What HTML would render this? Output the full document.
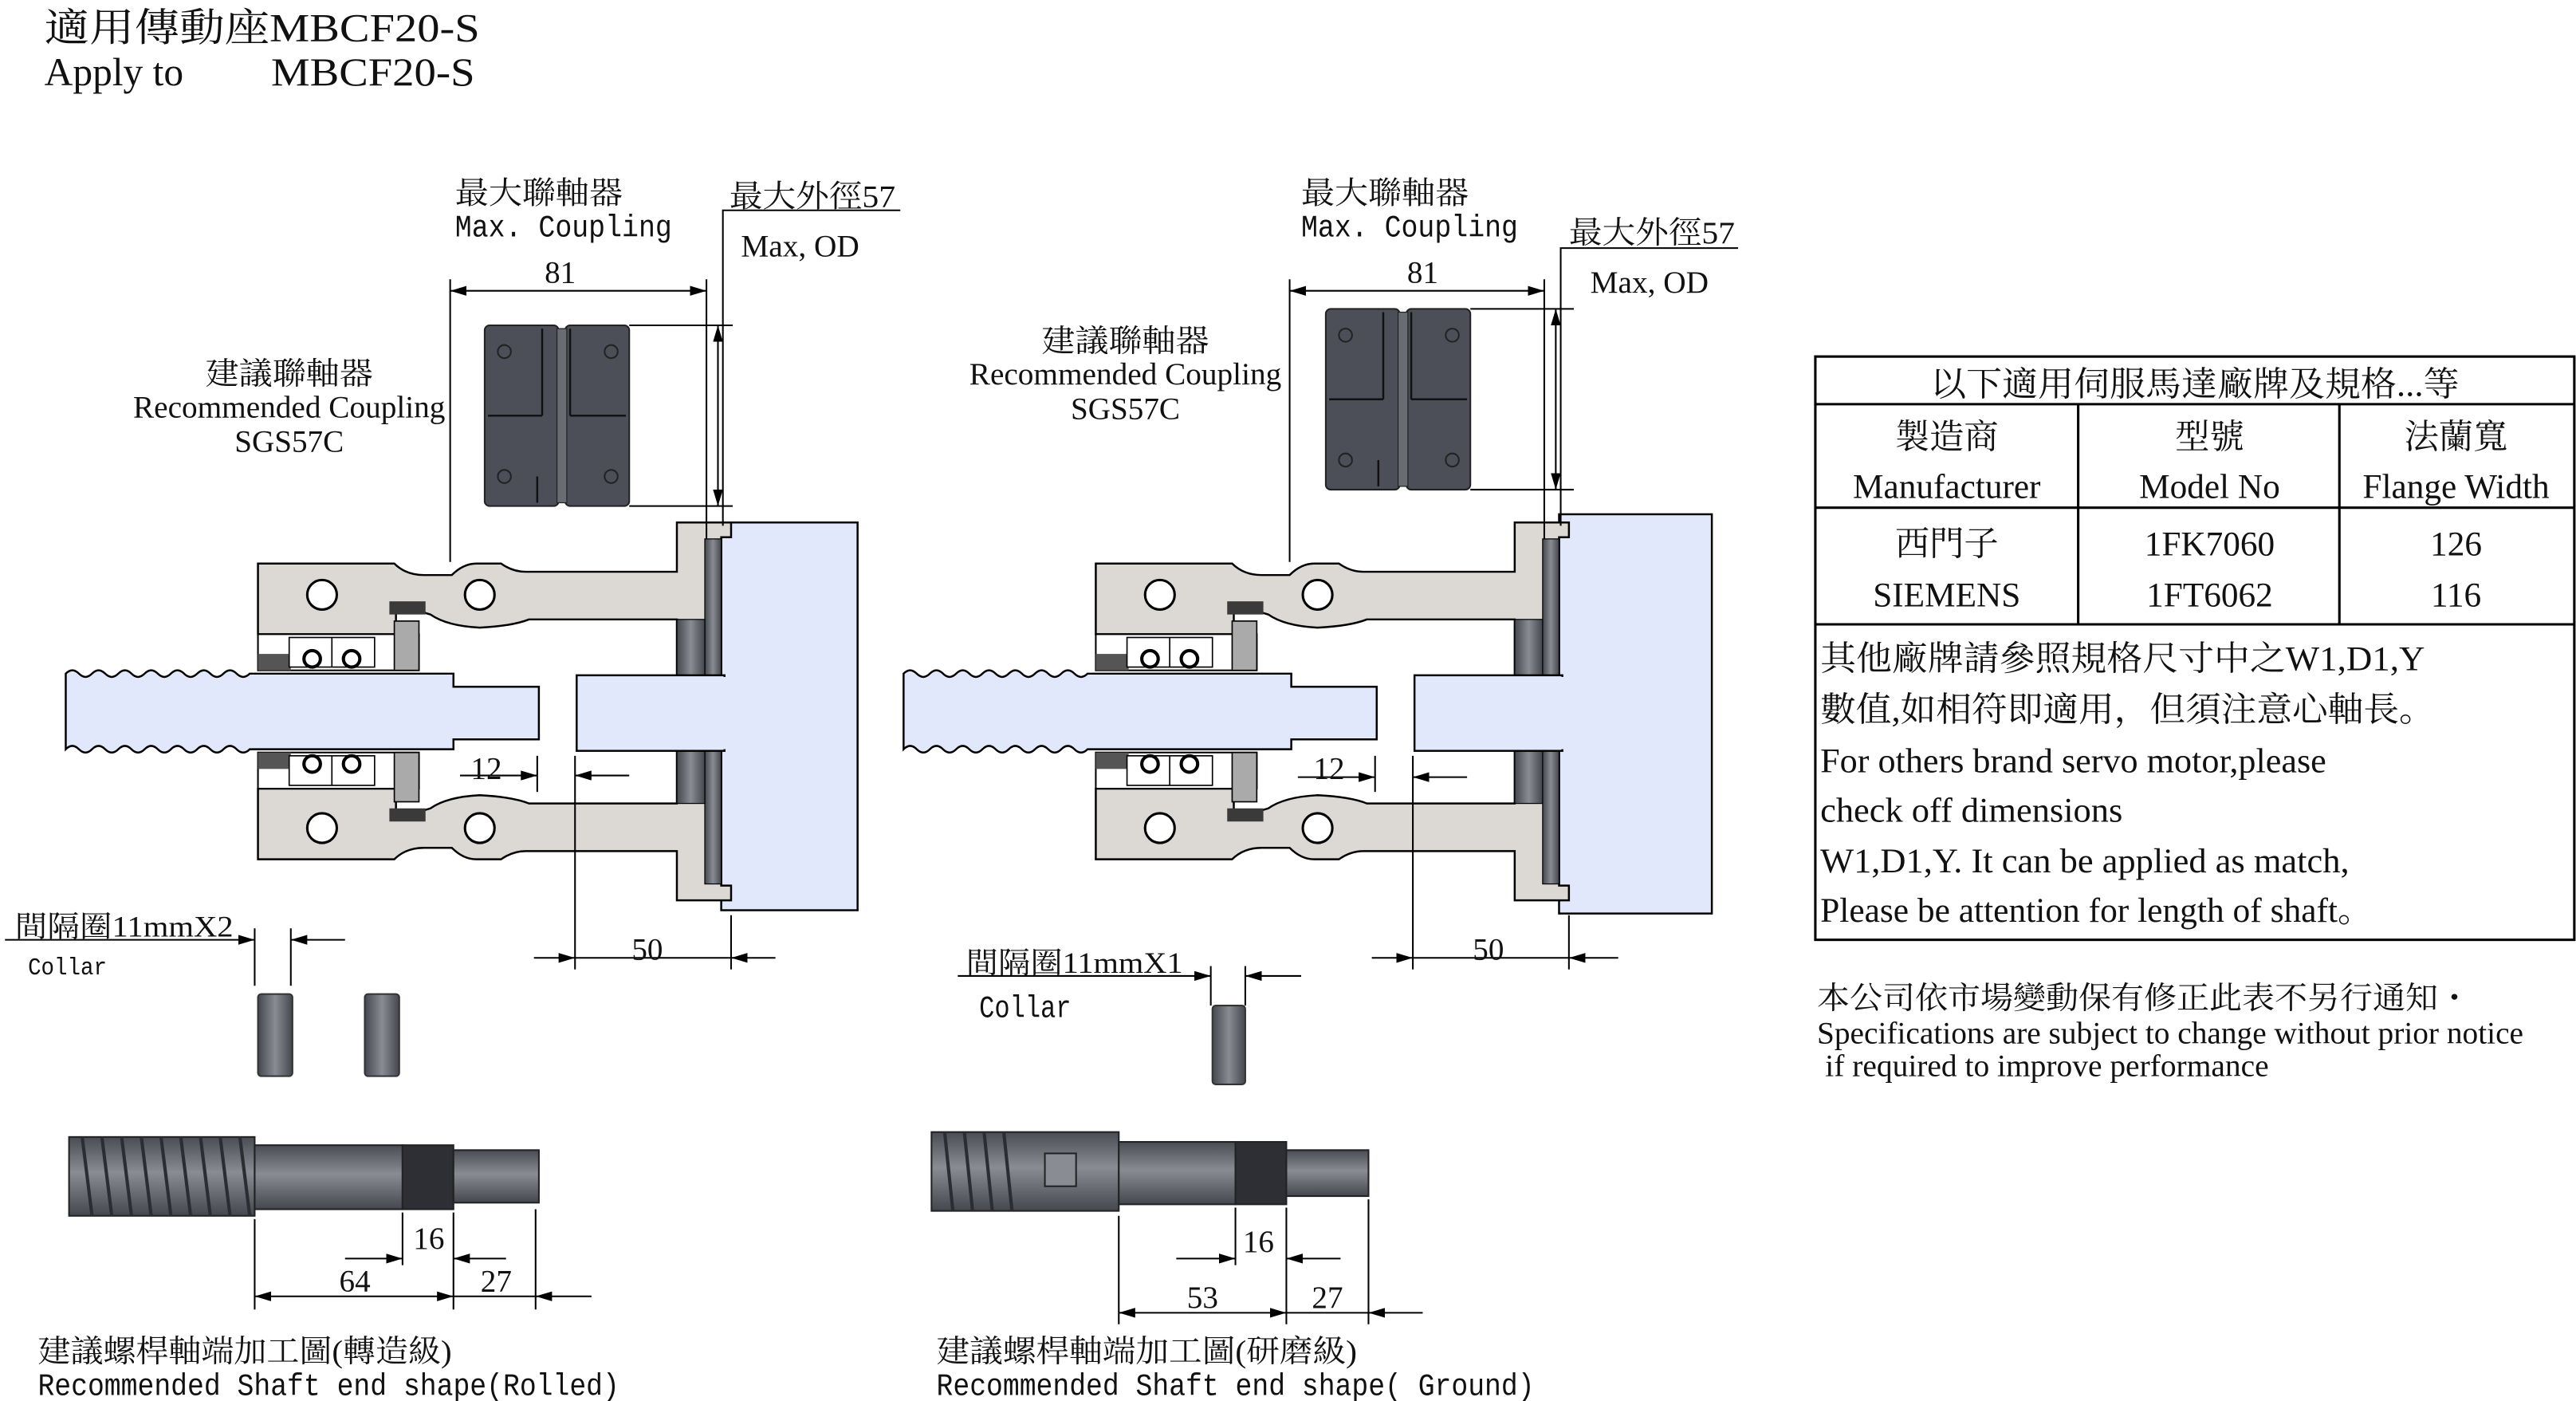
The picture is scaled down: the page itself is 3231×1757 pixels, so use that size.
<!DOCTYPE html>
<html><head><meta charset="utf-8"><style>
html,body{margin:0;padding:0;background:#fff;}
svg{display:block}
.s{font-family:"Liberation Serif","Noto Serif CJK SC","Noto Sans CJK TC",serif;fill:#111}
.m{font-family:"Liberation Mono","Noto Sans CJK TC",monospace;fill:#111}
</style></head><body>
<svg width="3231" height="1757" viewBox="0 0 1568 852.7" xmlns="http://www.w3.org/2000/svg">
<defs>
<marker id="a" viewBox="0 0 10 6" refX="10" refY="3" markerWidth="10" markerHeight="6" markerUnits="userSpaceOnUse" orient="auto-start-reverse"><path d="M0,0L10,3L0,6z" fill="#000"/></marker>
<linearGradient id="g" x1="0" y1="0" x2="0" y2="1"><stop offset="0" stop-color="#4a4c54"/><stop offset="0.45" stop-color="#8a8c94"/><stop offset="1" stop-color="#45474f"/></linearGradient>
<linearGradient id="gh" x1="0" y1="0" x2="1" y2="0"><stop offset="0" stop-color="#45474f"/><stop offset="0.5" stop-color="#8a8c94"/><stop offset="1" stop-color="#45474f"/></linearGradient>
<g id="half">
 <!-- housing upper half -->
 <path d="M157,343 H240 Q247,350 258,350 H275 Q282,343 290,343 H305 Q312,348 320,348 H412 V318 H445 V327 H439 V411 H412 V377 H322 Q312,381 292,382 Q272,381 262,374 L252,371 H241 V386 H157 Z" fill="#dcd8d3" stroke="#000" stroke-width="1.2"/>
 <rect x="237" y="366" width="22" height="8" fill="#3a3a3a"/>
 <rect x="157" y="386" width="98" height="22" fill="#fff" stroke="#000" stroke-width="1"/>
 <rect x="157" y="398" width="20" height="10" fill="#555"/>
 <rect x="240" y="378" width="15" height="30" fill="#aaa" stroke="#000" stroke-width="0.8"/>
 <circle cx="196" cy="362" r="9" fill="#fff" stroke="#000" stroke-width="1.5"/>
 <circle cx="292" cy="362" r="9" fill="#fff" stroke="#000" stroke-width="1.5"/>
 <rect x="176" y="388" width="52" height="18" fill="#fff" stroke="#000" stroke-width="0.8"/>
 <line x1="202" y1="388" x2="202" y2="406" stroke="#000" stroke-width="0.8"/>
 <circle cx="190" cy="401" r="5" fill="#fff" stroke="#000" stroke-width="2"/>
 <circle cx="214" cy="401" r="5" fill="#fff" stroke="#000" stroke-width="2"/>
 <rect x="429" y="328" width="10" height="83" fill="url(#gh)" stroke="#000" stroke-width="0.6"/>
 <rect x="412" y="377" width="17" height="34" fill="url(#gh)" stroke="#000" stroke-width="0.6"/>
</g>
<g id="coup">
 <rect x="295" y="198" width="45" height="110" rx="3" fill="#4d4f58" stroke="#222"/>
 <rect x="344" y="198" width="39" height="110" rx="3" fill="#4d4f58" stroke="#222"/>
 <rect x="339" y="200" width="6" height="106" fill="#6a6c74" stroke="#222" stroke-width="0.6"/>
 <path d="M297,253 H330 M347,253 H381 M330,253 V200 M347,253 V200 M327,290 V306" stroke="#111" stroke-width="1.2" fill="none"/>
 <circle cx="307" cy="214" r="4" fill="none" stroke="#222"/><circle cx="372" cy="214" r="4" fill="none" stroke="#222"/>
 <circle cx="307" cy="290" r="4" fill="none" stroke="#222"/><circle cx="372" cy="290" r="4" fill="none" stroke="#222"/>
</g>
<path id="thr" d="M40,410 q4,-4 8,0 t8,0 t8,0 t8,0 t8,0 t8,0 t8,0 t8,0 t8,0 t8,0 t8,0 t8,0 t8,0 t8,0 H276 V418 H328 V450 H276 V456 H152 q-4,4 -8,0 t-8,0 t-8,0 t-8,0 t-8,0 t-8,0 t-8,0 t-8,0 t-8,0 t-8,0 t-8,0 t-8,0 t-8,0 t-8,0 Z"/>
</defs>

<!-- title -->
<text class="s" x="27" y="25" font-size="24" textLength="265" lengthAdjust="spacingAndGlyphs">適用傳動座MBCF20-S</text>
<text class="s" x="27" y="52" font-size="24">Apply to</text>
<text class="s" x="165" y="52" font-size="24" textLength="124" lengthAdjust="spacingAndGlyphs">MBCF20-S</text>

<!-- LEFT ASSEMBLY -->
<g>
 <rect x="439" y="318" width="83" height="236" fill="#e1e8fb" stroke="#000" stroke-width="1.2"/>
 <use href="#half"/>
 <use href="#half" transform="matrix(1,0,0,-1,0,866)"/>
 <rect x="351" y="411" width="90" height="46" fill="#e1e8fb" stroke="#000" stroke-width="1.2"/>
 <rect x="436" y="412" width="8" height="44" fill="#e1e8fb"/>
 <use href="#thr" fill="#e1e8fb" stroke="#000" stroke-width="1.2"/>
 <use href="#coup"/>
</g>
<!-- left dims -->
<g stroke="#000" stroke-width="1" fill="none">
 <line x1="274" y1="170" x2="274" y2="342"/><line x1="430" y1="170" x2="430" y2="328"/>
 <line x1="274" y1="177" x2="430" y2="177" marker-start="url(#a)" marker-end="url(#a)"/>
 <path d="M548,128 H440 V320"/>
 <line x1="383" y1="198" x2="446" y2="198"/><line x1="383" y1="308" x2="446" y2="308"/>
 <line x1="437" y1="198" x2="437" y2="308" marker-start="url(#a)" marker-end="url(#a)"/>
 <line x1="327" y1="460" x2="327" y2="482"/><line x1="350" y1="460" x2="350" y2="590"/>
 <line x1="280" y1="472" x2="327" y2="472" marker-end="url(#a)"/><line x1="383" y1="472" x2="350" y2="472" marker-end="url(#a)"/>
 <line x1="445" y1="557" x2="445" y2="590"/>
 <line x1="325" y1="583" x2="350" y2="583" marker-end="url(#a)"/><line x1="350" y1="583" x2="445" y2="583"/><line x1="472" y1="583" x2="445" y2="583" marker-end="url(#a)"/>
 <line x1="3" y1="572" x2="155" y2="572" marker-end="url(#a)"/><line x1="210" y1="572" x2="177" y2="572" marker-end="url(#a)"/>
 <line x1="155" y1="565" x2="155" y2="600"/><line x1="177" y1="565" x2="177" y2="600"/>
</g>
<text class="s" x="277" y="124" font-size="19" textLength="102" lengthAdjust="spacingAndGlyphs">最大聯軸器</text>
<text class="m" x="277" y="144" font-size="19" textLength="132" lengthAdjust="spacingAndGlyphs">Max. Coupling</text>
<text class="s" x="444" y="126" font-size="19" textLength="101" lengthAdjust="spacingAndGlyphs">最大外徑57</text>
<text class="s" x="451" y="156" font-size="19" textLength="72" lengthAdjust="spacingAndGlyphs">Max, OD</text>
<text class="s" x="341" y="172" font-size="19" text-anchor="middle">81</text>
<text class="s" x="176" y="234" font-size="19" text-anchor="middle" textLength="102" lengthAdjust="spacingAndGlyphs">建議聯軸器</text>
<text class="s" x="176" y="254" font-size="19" text-anchor="middle" textLength="190" lengthAdjust="spacingAndGlyphs">Recommended Coupling</text>
<text class="s" x="176" y="275" font-size="19" text-anchor="middle">SGS57C</text>
<text class="s" x="296" y="474" font-size="19" text-anchor="middle">12</text>
<text class="s" x="394" y="584" font-size="19" text-anchor="middle">50</text>
<text class="s" x="9" y="570" font-size="18" textLength="133" lengthAdjust="spacingAndGlyphs">間隔圈11mmX2</text>
<text class="m" x="17" y="593" font-size="15" textLength="48" lengthAdjust="spacingAndGlyphs">Collar</text>
<rect x="157" y="605" width="21" height="50" rx="2" fill="url(#gh)" stroke="#333"/>
<rect x="222" y="605" width="21" height="50" rx="2" fill="url(#gh)" stroke="#333"/>

<!-- left bottom shaft -->
<rect x="42" y="692" width="113" height="48" fill="url(#g)" stroke="#222"/>
<g stroke="#2b2d33" stroke-width="2">
 <path d="M50,692 l6,48 M62,692 l6,48 M74,692 l6,48 M86,692 l6,48 M98,692 l6,48 M110,692 l6,48 M122,692 l6,48 M134,692 l6,48 M146,692 l6,48"/>
</g>
<rect x="155" y="697" width="90" height="39" fill="url(#g)" stroke="#222"/>
<rect x="245" y="697" width="31" height="39" fill="#2e2f35" stroke="#222"/>
<rect x="276" y="700" width="52" height="32" fill="url(#g)" stroke="#222"/>
<g stroke="#000" stroke-width="1" fill="none">
 <line x1="155" y1="742" x2="155" y2="797"/><line x1="245" y1="738" x2="245" y2="770"/>
 <line x1="276" y1="738" x2="276" y2="797"/><line x1="326" y1="736" x2="326" y2="797"/>
 <line x1="210" y1="766" x2="245" y2="766" marker-end="url(#a)"/><line x1="308" y1="766" x2="276" y2="766" marker-end="url(#a)"/>
 <line x1="155" y1="789" x2="276" y2="789" marker-start="url(#a)" marker-end="url(#a)"/><line x1="276" y1="789" x2="326" y2="789"/>
 <line x1="360" y1="789" x2="326" y2="789" marker-end="url(#a)"/>
</g>
<text class="s" x="261" y="760" font-size="19" text-anchor="middle">16</text>
<text class="s" x="216" y="786" font-size="19" text-anchor="middle">64</text>
<text class="s" x="302" y="786" font-size="19" text-anchor="middle">27</text>
<text class="s" x="23" y="829" font-size="19" textLength="252" lengthAdjust="spacingAndGlyphs">建議螺桿軸端加工圖(轉造級)</text>
<text class="m" x="23" y="849" font-size="19" textLength="354" lengthAdjust="spacingAndGlyphs">Recommended Shaft end shape(Rolled)</text>

<!-- RIGHT ASSEMBLY -->
<g transform="translate(510,0)">
 <rect x="439" y="313" width="93" height="243" fill="#e1e8fb" stroke="#000" stroke-width="1.2"/>
 <use href="#half"/>
 <use href="#half" transform="matrix(1,0,0,-1,0,866)"/>
 <rect x="351" y="411" width="90" height="46" fill="#e1e8fb" stroke="#000" stroke-width="1.2"/>
 <rect x="436" y="412" width="8" height="44" fill="#e1e8fb"/>
 <use href="#thr" fill="#e1e8fb" stroke="#000" stroke-width="1.2"/>
</g>
<use href="#coup" transform="translate(512,-10)"/>
<g stroke="#000" stroke-width="1" fill="none">
 <line x1="785" y1="170" x2="785" y2="342"/><line x1="940" y1="170" x2="940" y2="328"/>
 <line x1="785" y1="177" x2="940" y2="177" marker-start="url(#a)" marker-end="url(#a)"/>
 <path d="M1058,151 H950 V320"/>
 <line x1="895" y1="188" x2="958" y2="188"/><line x1="895" y1="298" x2="958" y2="298"/>
 <line x1="947" y1="188" x2="947" y2="298" marker-start="url(#a)" marker-end="url(#a)"/>
 <line x1="837" y1="460" x2="837" y2="482"/><line x1="860" y1="460" x2="860" y2="590"/>
 <line x1="790" y1="473" x2="837" y2="473" marker-end="url(#a)"/><line x1="893" y1="473" x2="860" y2="473" marker-end="url(#a)"/>
 <line x1="955" y1="557" x2="955" y2="590"/>
 <line x1="835" y1="583" x2="860" y2="583" marker-end="url(#a)"/><line x1="860" y1="583" x2="955" y2="583"/><line x1="985" y1="583" x2="955" y2="583" marker-end="url(#a)"/>
 <line x1="583" y1="594" x2="737" y2="594" marker-end="url(#a)"/><line x1="792" y1="594" x2="758" y2="594" marker-end="url(#a)"/>
 <line x1="737" y1="588" x2="737" y2="612"/><line x1="758" y1="588" x2="758" y2="612"/>
</g>
<text class="s" x="792" y="124" font-size="19" textLength="102" lengthAdjust="spacingAndGlyphs">最大聯軸器</text>
<text class="m" x="792" y="144" font-size="19" textLength="132" lengthAdjust="spacingAndGlyphs">Max. Coupling</text>
<text class="s" x="955" y="148" font-size="19" textLength="101" lengthAdjust="spacingAndGlyphs">最大外徑57</text>
<text class="s" x="968" y="178" font-size="19" textLength="72" lengthAdjust="spacingAndGlyphs">Max, OD</text>
<text class="s" x="866" y="172" font-size="19" text-anchor="middle">81</text>
<text class="s" x="685" y="214" font-size="19" text-anchor="middle" textLength="102" lengthAdjust="spacingAndGlyphs">建議聯軸器</text>
<text class="s" x="685" y="234" font-size="19" text-anchor="middle" textLength="190" lengthAdjust="spacingAndGlyphs">Recommended Coupling</text>
<text class="s" x="685" y="255" font-size="19" text-anchor="middle">SGS57C</text>
<text class="s" x="809" y="474" font-size="19" text-anchor="middle">12</text>
<text class="s" x="906" y="584" font-size="19" text-anchor="middle">50</text>
<text class="s" x="588" y="592" font-size="18" textLength="132" lengthAdjust="spacingAndGlyphs">間隔圈11mmX1</text>
<text class="m" x="596" y="619" font-size="19" textLength="56" lengthAdjust="spacingAndGlyphs">Collar</text>
<rect x="738" y="612" width="20" height="48" rx="2" fill="url(#gh)" stroke="#333"/>

<!-- right bottom shaft -->
<rect x="567" y="689" width="114" height="48" fill="url(#g)" stroke="#222"/>
<g stroke="#2b2d33" stroke-width="2"><path d="M575,689 l5,48 M587,689 l5,48 M599,689 l5,48 M611,689 l5,48"/></g>
<rect x="636" y="702" width="19" height="20" fill="#8a8c94" stroke="#222"/>
<rect x="681" y="695" width="71" height="38" fill="url(#g)" stroke="#222"/>
<rect x="752" y="695" width="31" height="38" fill="#2e2f35" stroke="#222"/>
<rect x="783" y="700" width="50" height="28" fill="url(#g)" stroke="#222"/>
<g stroke="#000" stroke-width="1" fill="none">
 <line x1="681" y1="740" x2="681" y2="806"/><line x1="752" y1="735" x2="752" y2="770"/>
 <line x1="783" y1="735" x2="783" y2="806"/><line x1="833" y1="730" x2="833" y2="806"/>
 <line x1="716" y1="766" x2="752" y2="766" marker-end="url(#a)"/><line x1="816" y1="766" x2="783" y2="766" marker-end="url(#a)"/>
 <line x1="681" y1="799" x2="783" y2="799" marker-start="url(#a)" marker-end="url(#a)"/><line x1="783" y1="799" x2="833" y2="799"/>
 <line x1="866" y1="799" x2="833" y2="799" marker-end="url(#a)"/>
</g>
<text class="s" x="766" y="762" font-size="19" text-anchor="middle">16</text>
<text class="s" x="732" y="796" font-size="19" text-anchor="middle">53</text>
<text class="s" x="808" y="796" font-size="19" text-anchor="middle">27</text>
<text class="s" x="570" y="829" font-size="19" textLength="256" lengthAdjust="spacingAndGlyphs">建議螺桿軸端加工圖(研磨級)</text>
<text class="m" x="570" y="849" font-size="19" textLength="364" lengthAdjust="spacingAndGlyphs">Recommended Shaft end shape( Ground)</text>

<!-- TABLE -->
<g stroke="#000" stroke-width="1.5" fill="none">
 <rect x="1105" y="217" width="462" height="355"/>
 <line x1="1105" y1="246" x2="1567" y2="246"/>
 <line x1="1105" y1="309" x2="1567" y2="309"/>
 <line x1="1105" y1="380" x2="1567" y2="380"/>
 <line x1="1265" y1="246" x2="1265" y2="380"/>
 <line x1="1424" y1="246" x2="1424" y2="380"/>
</g>
<g class="s" font-size="21" text-anchor="middle">
 <text x="1336" y="241" textLength="322" lengthAdjust="spacingAndGlyphs">以下適用伺服馬達廠牌及規格...等</text>
 <text x="1185" y="273">製造商</text><text x="1345" y="273">型號</text><text x="1495" y="273">法蘭寬</text>
 <text x="1185" y="303">Manufacturer</text><text x="1345" y="303">Model No</text><text x="1495" y="303">Flange Width</text>
 <text x="1185" y="338">西門子</text><text x="1345" y="338">1FK7060</text><text x="1495" y="338">126</text>
 <text x="1185" y="369">SIEMENS</text><text x="1345" y="369">1FT6062</text><text x="1495" y="369">116</text>
</g>
<g class="s" font-size="21">
 <text x="1108" y="408" textLength="368" lengthAdjust="spacingAndGlyphs">其他廠牌請參照規格尺寸中之W1,D1,Y</text>
 <text x="1108" y="439" textLength="374" lengthAdjust="spacingAndGlyphs">數值,如相符即適用，但須注意心軸長。</text>
 <text x="1108" y="470" textLength="308" lengthAdjust="spacingAndGlyphs">For others brand servo motor,please</text>
 <text x="1108" y="500" textLength="184" lengthAdjust="spacingAndGlyphs">check off dimensions</text>
 <text x="1108" y="531" textLength="322" lengthAdjust="spacingAndGlyphs">W1,D1,Y. It can be applied as match,</text>
 <text x="1108" y="561" textLength="336" lengthAdjust="spacingAndGlyphs">Please be attention for length of shaft。</text>
</g>
<g class="s" font-size="19">
 <text x="1106" y="614" textLength="398" lengthAdjust="spacingAndGlyphs">本公司依市場變動保有修正此表不另行通知・</text>
 <text x="1106" y="635" textLength="430" lengthAdjust="spacingAndGlyphs">Specifications are subject to change without prior notice</text>
 <text x="1111" y="655" textLength="270" lengthAdjust="spacingAndGlyphs">if required to improve performance</text>
</g>
</svg>
</body></html>
